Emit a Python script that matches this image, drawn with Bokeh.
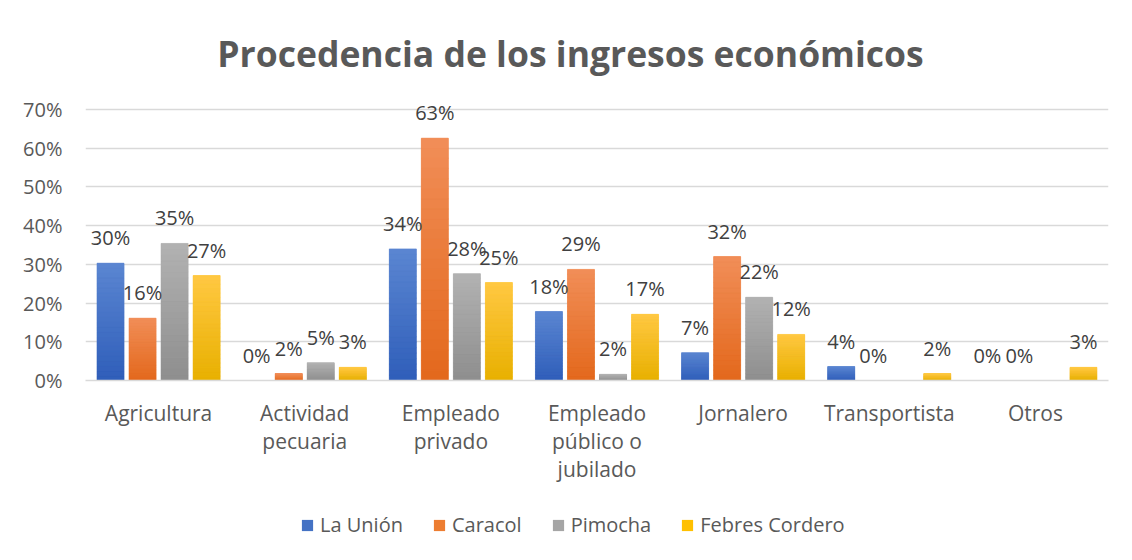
from bokeh.plotting import figure
from bokeh.layouts import column
from bokeh.models import (ColumnDataSource, FactorRange, Range1d, NumeralTickFormatter,
                          Legend, LegendItem, LabelSet, Label, FixedTicker)
from bokeh.core.properties import value
from bokeh.transform import dodge
from bokeh.embed import file_html
from bokeh.resources import INLINE

# ---------------- data ----------------
title_text = "Procedencia de los ingresos económicos"
categories = ["Agricultura", "Actividad\npecuaria", "Empleado\nprivado",
              "Empleado\npúblico o\njubilado", "Jornalero", "Transportista", "Otros"]
series_names = ["La Unión", "Caracol", "Pimocha", "Febres Cordero"]
la_union = [0.303, 0.000, 0.340, 0.178, 0.072, 0.036, 0.000]
caracol = [0.161, 0.018, 0.626, 0.287, 0.320, 0.000, 0.000]
pimocha = [0.354, 0.046, 0.276, 0.016, 0.215, None, None]
febres = [0.271, 0.034, 0.253, 0.171, 0.119, 0.018, 0.034]
tick_values = [0, 0.1, 0.2, 0.3, 0.4, 0.5, 0.6, 0.7]

all_series = [la_union, caracol, pimocha, febres]
base_colors = ["#4472C4", "#ED7D31", "#A5A5A5", "#FFC000"]
top_colors = ["#5B86D2", "#F18E58", "#B2B2B2", "#FFC843"]
bottom_colors = ["#2F5EB9", "#E3681C", "#8E8E8E", "#E8B000"]

FONT = "Open Sans"
TXT = "#595959"
LEFT, FW, RIGHT = 85, 1023, 16


def bare(height):
    f = figure(frame_width=FW, frame_height=height, x_range=Range1d(LEFT, LEFT + FW),
               y_range=Range1d(0, height), output_backend="svg", toolbar_location=None,
               x_axis_location=None, y_axis_location=None,
               min_border_left=LEFT, min_border_right=RIGHT,
               min_border_top=0, min_border_bottom=0)
    f.grid.visible = False
    f.outline_line_color = None
    f.background_fill_color = "white"
    f.border_fill_color = "white"
    return f


# ---------------- title ----------------
head = bare(89)
head.add_layout(Label(x=570, y=89 - 52, text=title_text, text_align="center",
                      text_baseline="middle", text_font=FONT, text_font_size="35.5px",
                      text_font_style="bold", text_color=TXT))

# ---------------- main chart ----------------
p = figure(frame_width=FW, frame_height=291, x_range=FactorRange(*categories),
           y_range=Range1d(0, 0.7517), output_backend="svg", toolbar_location=None,
           min_border_left=LEFT, min_border_right=RIGHT, min_border_top=0,
           min_border_bottom=115)
p.outline_line_color = None
p.background_fill_color = "white"
p.border_fill_color = "white"

step = 32 / 146
width = 27 / 146
offsets = [-1.5 * step, -0.5 * step, 0.5 * step, 1.5 * step]


def hex2rgb(h):
    h = h.lstrip("#")
    return tuple(int(h[i:i + 2], 16) for i in (0, 2, 4))


def mix(c1, c2, t):
    a, b = hex2rgb(c1), hex2rgb(c2)
    return "#%02x%02x%02x" % tuple(int(round(a[i] + (b[i] - a[i]) * t)) for i in range(3))


N = 24
for s, vals in enumerate(all_series):
    cats, tops, labels = [], [], []
    for c, v in zip(categories, vals):
        if v is None:
            continue
        cats.append(c)
        tops.append(v)
        labels.append("%d%%" % int(v * 100 + 0.5))
    src = ColumnDataSource(dict(cat=cats, top=tops, label=labels))
    p.vbar(x=dodge("cat", offsets[s], range=p.x_range), top="top", width=width,
           source=src, fill_color=base_colors[s], line_color=None)

    # gradient slices
    gc, gb, gt, gcol = [], [], [], []
    for c, v in zip(cats, tops):
        if v <= 0:
            continue
        for k in range(N):
            gc.append(c)
            gb.append(v * k / N)
            gt.append(v * (k + 1) / N)
            gcol.append(mix(bottom_colors[s], top_colors[s], (k + 0.5) / N))
    gsrc = ColumnDataSource(dict(cat=gc, bottom=gb, top=gt, color=gcol))
    p.vbar(x=dodge("cat", offsets[s], range=p.x_range), top="top", bottom="bottom",
           width=width, source=gsrc, fill_color="color", line_color="color",
           line_width=0.6)

    ls = LabelSet(x=dodge("cat", offsets[s], range=p.x_range), y="top", text="label",
                  source=src, text_align="center", text_baseline="alphabetic",
                  y_offset=18, text_font=value(FONT), text_font_size="20px",
                  text_color="#404040")
    p.add_layout(ls)

p.yaxis.ticker = FixedTicker(ticks=tick_values)
p.yaxis.formatter = NumeralTickFormatter(format="0%")
p.yaxis.axis_line_color = None
p.yaxis.major_tick_line_color = None
p.yaxis.minor_tick_line_color = None
p.yaxis.major_label_text_font = FONT
p.yaxis.major_label_text_font_size = "20px"
p.yaxis.major_label_text_color = TXT
p.yaxis.major_label_standoff = 17

p.xaxis.axis_line_color = "#D9D9D9"
p.xaxis.axis_line_width = 1.5
p.xaxis.major_tick_line_color = None
p.xaxis.minor_tick_line_color = None
p.xaxis.major_label_text_font = FONT
p.xaxis.major_label_text_font_size = "21px"
p.xaxis.major_label_text_color = TXT
p.xaxis.major_label_standoff = 12
p.xaxis.major_label_text_line_height = 1.01
p.xaxis.major_label_orientation = "horizontal"

p.xgrid.grid_line_color = None
p.ygrid.grid_line_color = "#D9D9D9"
p.ygrid.grid_line_width = 1.3

# ---------------- legend ----------------
leg = bare(56)
items = []
for s, name in enumerate(series_names):
    # one-point stand-in outside the visible range, only used for the legend swatch
    r = leg.vbar(x=[0], top=[0], width=0, fill_color=base_colors[s], line_color=None)
    items.append(LegendItem(label=name, renderers=[r]))
legend = Legend(items=items, orientation="horizontal", location=(215, 13),
                label_text_font=FONT, label_text_font_size="20px",
                label_text_color=TXT, glyph_width=14, glyph_height=14,
                spacing=29, label_standoff=6, border_line_color=None,
                background_fill_alpha=0, margin=0, padding=0)
leg.add_layout(legend, "center")

layout = column(head, p, leg, spacing=0)
open("out.html", "w").write(file_html(layout, INLINE))
